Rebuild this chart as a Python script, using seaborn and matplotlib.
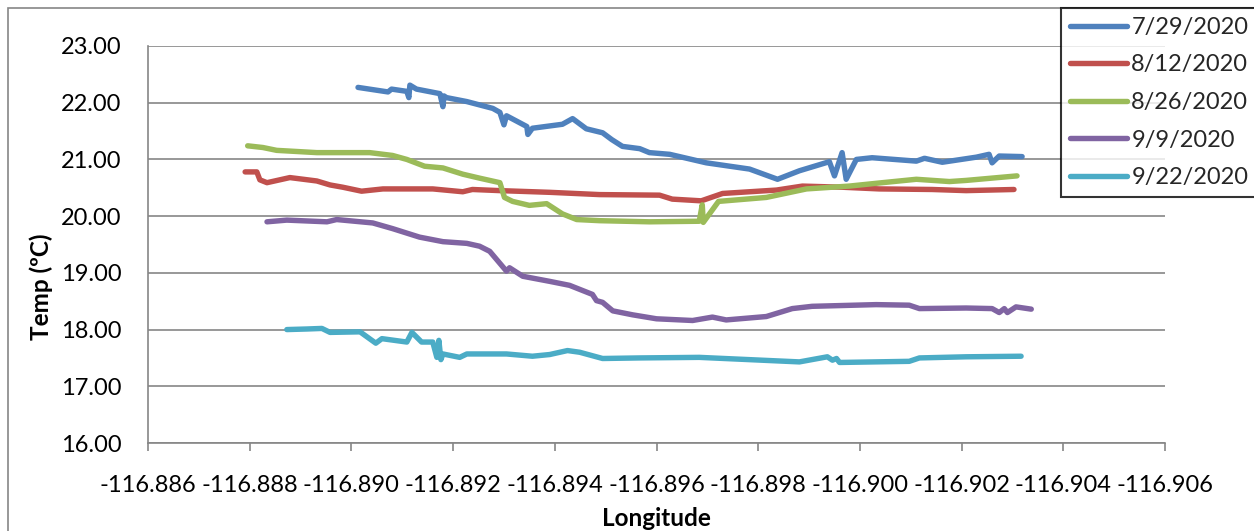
import numpy as np
import pandas as pd
import matplotlib
matplotlib.use("Agg")
import matplotlib.pyplot as plt
from matplotlib.patches import Rectangle
from matplotlib.ticker import FormatStrFormatter, MultipleLocator
import seaborn as sns

# Survey dates
dates = ["7/29/2020", "8/12/2020", "8/26/2020", "9/9/2020", "9/22/2020"]

lon_0729 = [-116.89013, -116.89072, -116.89079, -116.89109, -116.89113, -116.89115, -116.89128,
            -116.89174, -116.89180, -116.89182, -116.89187, -116.89227, -116.89278, -116.89292,
            -116.89300, -116.89305, -116.89345, -116.89347, -116.89356, -116.89415, -116.89435,
            -116.89462, -116.89494, -116.89512, -116.89533, -116.89567, -116.89586, -116.89626,
            -116.89698, -116.89783, -116.89838, -116.89881, -116.89940, -116.89950, -116.89965,
            -116.89973, -116.89993, -116.90024, -116.90111, -116.90127, -116.90162, -116.90229,
            -116.90254, -116.90260, -116.90274, -116.90319]
temp_0729 = [22.27, 22.19, 22.24, 22.20, 22.09, 22.31, 22.24, 22.16, 21.93, 22.12, 22.09, 22.02,
             21.90, 21.83, 21.61, 21.77, 21.58, 21.44, 21.55, 21.62, 21.72, 21.54, 21.47, 21.35,
             21.23, 21.19, 21.12, 21.09, 20.94, 20.83, 20.65, 20.80, 20.96, 20.71, 21.12, 20.65,
             21.00, 21.03, 20.97, 21.02, 20.95, 21.04, 21.09, 20.94, 21.06, 21.05]

lon_0812 = [-116.88791, -116.88814, -116.88820, -116.88834, -116.88879, -116.88932, -116.88958,
            -116.88983, -116.89020, -116.89062, -116.89160, -116.89219, -116.89238, -116.89292,
            -116.89390, -116.89488, -116.89606, -116.89631, -116.89688, -116.89730, -116.89836,
            -116.89887, -116.89965, -116.90038, -116.90142, -116.90209, -116.90303]
temp_0812 = [20.78, 20.78, 20.64, 20.59, 20.68, 20.62, 20.55, 20.51, 20.44, 20.48, 20.48, 20.43,
             20.47, 20.45, 20.42, 20.38, 20.37, 20.30, 20.27, 20.40, 20.46, 20.53, 20.51, 20.48,
             20.47, 20.45, 20.47]

lon_0826 = [-116.88796, -116.88826, -116.88853, -116.88932, -116.89036, -116.89081, -116.89109,
            -116.89144, -116.89180, -116.89219, -116.89252, -116.89292, -116.89301, -116.89317,
            -116.89350, -116.89384, -116.89415, -116.89443, -116.89488, -116.89586, -116.89684,
            -116.89690, -116.89692, -116.89722, -116.89816, -116.89895, -116.89979, -116.90044,
            -116.90111, -116.90176, -116.90209, -116.90309]
temp_0826 = [21.24, 21.21, 21.16, 21.12, 21.12, 21.07, 21.00, 20.88, 20.85, 20.74, 20.67, 20.59,
             20.33, 20.26, 20.19, 20.22, 20.04, 19.94, 19.92, 19.90, 19.91, 20.20, 19.89, 20.26,
             20.33, 20.48, 20.53, 20.59, 20.65, 20.61, 20.63, 20.71]

lon_0909 = [-116.88834, -116.88873, -116.88952, -116.88971, -116.89042, -116.89081, -116.89134,
            -116.89180, -116.89227, -116.89252, -116.89272, -116.89305, -116.89311, -116.89337,
            -116.89390, -116.89429, -116.89474, -116.89482, -116.89494, -116.89514, -116.89553,
            -116.89600, -116.89671, -116.89710, -116.89737, -116.89816, -116.89867, -116.89906,
            -116.90032, -116.90097, -116.90117, -116.90209, -116.90260, -116.90274, -116.90284,
            -116.90290, -116.90307, -116.90337]
temp_0909 = [19.90, 19.93, 19.90, 19.94, 19.88, 19.78, 19.63, 19.55, 19.52, 19.47, 19.38, 19.03,
             19.09, 18.94, 18.85, 18.78, 18.62, 18.51, 18.48, 18.33, 18.26, 18.19, 18.16, 18.22,
             18.17, 18.23, 18.37, 18.41, 18.44, 18.43, 18.37, 18.38, 18.37, 18.30, 18.37, 18.30,
             18.40, 18.36]

lon_0922 = [-116.88873, -116.88912, -116.88942, -116.88958, -116.89017, -116.89048, -116.89060,
            -116.89109, -116.89119, -116.89138, -116.89160, -116.89168, -116.89172, -116.89176,
            -116.89180, -116.89213, -116.89227, -116.89305, -116.89356, -116.89390, -116.89425,
            -116.89449, -116.89494, -116.89567, -116.89684, -116.89881, -116.89936, -116.89946,
            -116.89954, -116.89960, -116.90097, -116.90117, -116.90209, -116.90317]
temp_0922 = [18.00, 18.01, 18.02, 17.95, 17.96, 17.76, 17.84, 17.78, 17.95, 17.78, 17.78, 17.51,
             17.81, 17.47, 17.57, 17.51, 17.57, 17.57, 17.53, 17.56, 17.63, 17.60, 17.49, 17.50,
             17.51, 17.43, 17.52, 17.46, 17.49, 17.42, 17.44, 17.50, 17.52, 17.53]

colors = ["#4F81BD", "#C0504D", "#9BBB59", "#8064A2", "#4BACC6"]

lons = [lon_0729, lon_0812, lon_0826, lon_0909, lon_0922]
temps = [temp_0729, temp_0812, temp_0826, temp_0909, temp_0922]
frames = []
for d, lo, te in zip(dates, lons, temps):
    frames.append(pd.DataFrame({"Longitude": lo, "Temp": te, "Date": d}))
df = pd.concat(frames, ignore_index=True)

sns.set_theme(style="white")
plt.rcParams["font.family"] = ["Lato", "DejaVu Sans"]

W, H = 1254, 531
fig = plt.figure(figsize=(W / 100, H / 100), dpi=100)
ax = fig.add_axes([148 / W, 1 - 443 / H, (1165 - 148) / W, (443 - 46) / H])

grid_c = "#868686"
lw = 3.9
sns.lineplot(data=df, x="Longitude", y="Temp", hue="Date", hue_order=dates,
             palette=colors, sort=False, estimator=None, units="Date",
             linewidth=lw, ax=ax, legend=False, solid_capstyle="round",
             solid_joinstyle="round")

ax.set_xlim(-116.886, -116.906)
ax.set_ylim(16, 23)
ax.xaxis.set_major_locator(MultipleLocator(0.002))
ax.xaxis.set_major_formatter(FormatStrFormatter("%.3f"))
ax.yaxis.set_major_locator(MultipleLocator(1))
ax.yaxis.set_major_formatter(FormatStrFormatter("%.2f"))

ax.grid(axis="y", color=grid_c, linewidth=1.2)
ax.grid(axis="x", visible=False)
ax.set_axisbelow(True)
for s in ["top", "right"]:
    ax.spines[s].set_visible(False)
for s in ["left", "bottom"]:
    ax.spines[s].set_color(grid_c)
    ax.spines[s].set_linewidth(1.2)

ax.tick_params(axis="x", direction="out", length=6, width=1.2, color=grid_c,
               bottom=True, labelsize=17, pad=17, labelcolor="black")
ax.tick_params(axis="y", length=0, labelsize=17, pad=19, labelcolor="black")

ax.set_xlabel("Longitude", fontsize=17.5, fontweight="bold", color="black", labelpad=8)
ax.set_ylabel("Temp (ºC)", fontsize=17.5, fontweight="bold", color="black")
ax.yaxis.set_label_coords((53 - 148) / (1165 - 148), (443 - 287) / (443 - 46))

# Outer chart frame
fig.patches.append(Rectangle((8 / W, -0.2), 2, 1.2 - 8 / H, transform=fig.transFigure,
                             fill=False, edgecolor=grid_c, linewidth=1.2, zorder=0))

handles = [plt.Line2D([], [], color=c, linewidth=lw, solid_capstyle="round") for c in colors]
leg = fig.legend(handles, dates, loc="upper left",
                 bbox_to_anchor=(1061 / W, 1 - 8 / H), bbox_transform=fig.transFigure,
                 fontsize=17, frameon=True, fancybox=False, borderaxespad=0,
                 handlelength=2.4, handletextpad=0.2, labelspacing=0.7,
                 borderpad=0.38)
leg.get_frame().set_edgecolor("black")
leg.get_frame().set_linewidth(1.5)

fig.savefig("out.png", dpi=100, facecolor="white")
